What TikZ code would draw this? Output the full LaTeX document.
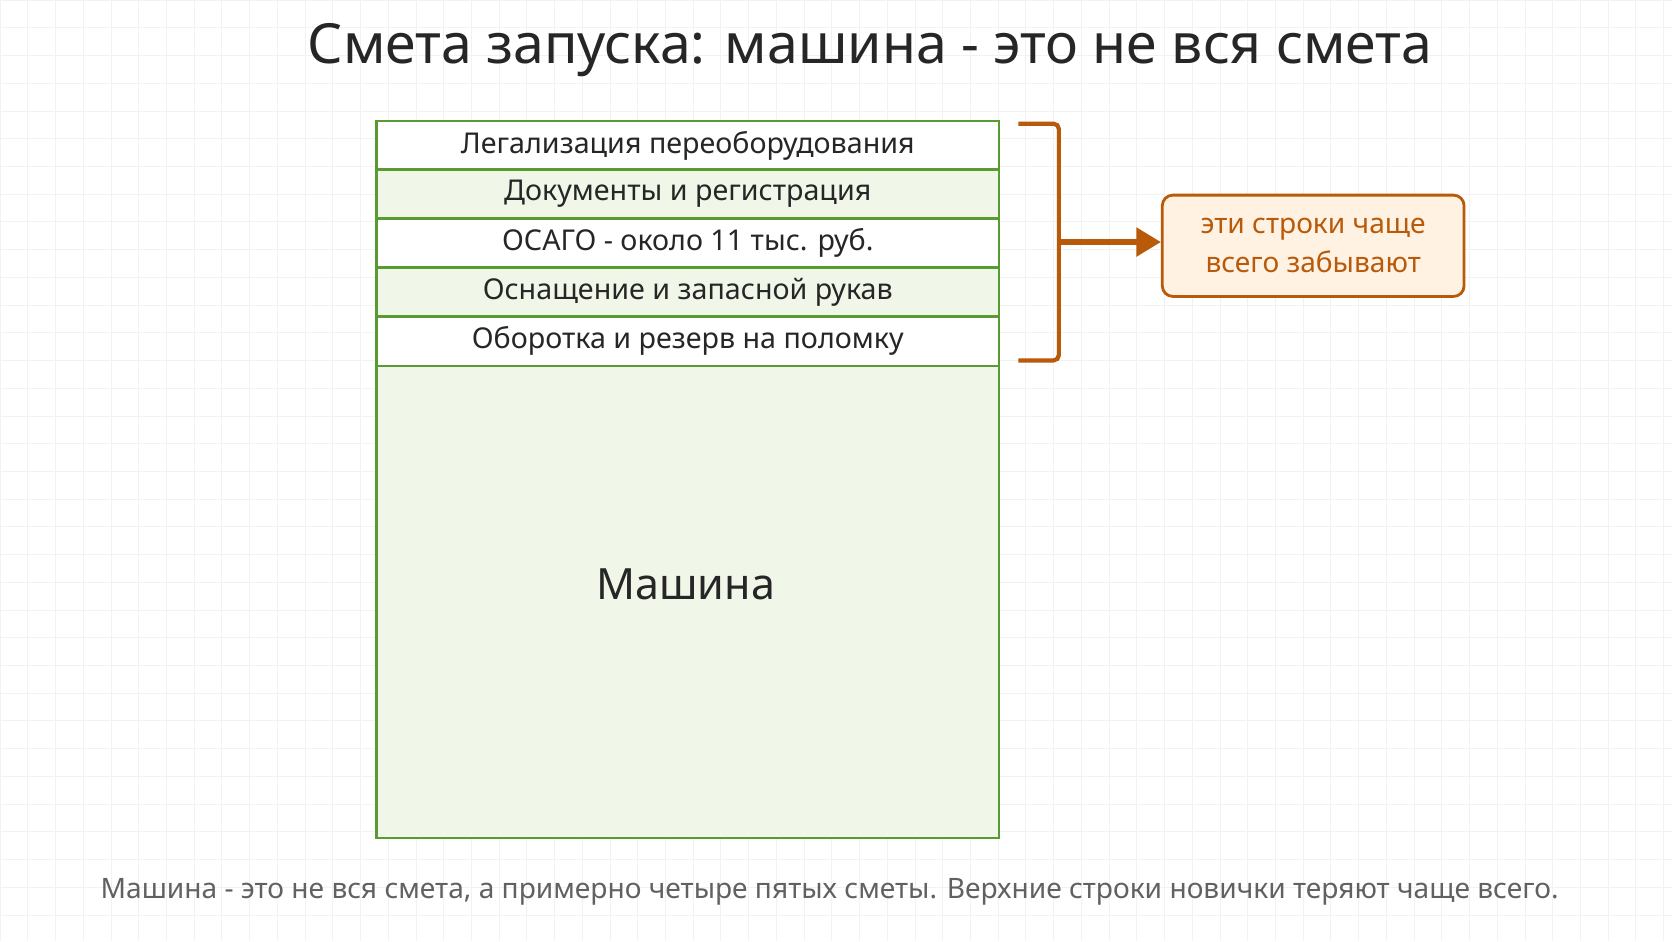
\documentclass[tikz,border=0pt]{standalone}
\usepackage{fontspec}
\setmainfont{Noto Sans}
\usetikzlibrary{arrows.meta}
\definecolor{rowgreen}{HTML}{5A9A32}
\definecolor{rowfill}{HTML}{F0F6E8}
\definecolor{brk}{HTML}{B85A0A}
\definecolor{notefill}{HTML}{FFF2E3}
\tikzset{row/.style={draw=rowgreen,line width=1.4pt,minimum width=584*0.02132cm,
                     inner sep=0pt,text=black!85,font=\fontsize{16.3}{19}\selectfont}}
\tikzset{note/.style={draw=brk,fill=notefill,line width=1.6pt,rounded corners=6pt,
                      text=brk,align=center,minimum width=283*0.02132cm,
                      minimum height=95*0.02132cm,font=\fontsize{16}{22}\selectfont}}
\begin{document}
\begin{tikzpicture}[x=0.02132cm,y=-0.02132cm]
    \useasboundingbox (0,0) rectangle (1568,882.6);
    \fill[white] (0,0) rectangle (1568,882.6);
    % light grid in the background
    \foreach \g in {0,26,...,1568}
        \draw[black!5,line width=0.4pt] (\g,0) -- (\g,882.6);
    \foreach \g in {0,26,...,882}
        \draw[black!5,line width=0.4pt] (0,\g) -- (1568,\g);

    \node[text=black!85] (title) at (816,47) {\fontsize{31.5}{38}\selectfont Смета запуска: машина - это не вся смета};

    % the stack of rows
    \node[row,fill=rowfill,minimum height=443*0.02132cm] (car) at (645,564.5) {};
    \node[text=black!85] (carlabel) at (643,548) {\fontsize{24.5}{30}\selectfont Машина};
    \foreach \name/\y/\col/\txt in {
        r1/136.5/white/Легализация переоборудования,
        r2/182/rowfill/Документы и регистрация,
        r3/228/white/ОСАГО - около 11 тыс. руб.,
        r4/274/rowfill/Оснащение и запасной рукав,
        r5/320/white/Оборотка и резерв на поломку}
        \node[row,fill=\col,minimum height=46*0.02132cm] (\name) at (645,\y) {\txt};

    % bracket and note
    \node[note] (hint) at (1231.5,230.5) {эти строки чаще\\всего забывают};
    \coordinate (btop) at (955,116);
    \coordinate (bbot) at (955,338);
    \coordinate (bmid) at (993,227);
    \draw[brk,line width=2.4pt,rounded corners=3pt]
        (btop) -- (993,116) -- (993,338) -- (bbot);
    \draw[brk,line width=3pt,-{Triangle[length=14pt,width=16pt]}]
        (bmid) -- (bmid -| hint.west);

    \node[text=black!62] (caption) at (778,836)
        {\fontsize{16}{19}\selectfont Машина - это не вся смета, а примерно четыре пятых сметы. Верхние строки новички теряют чаще всего.};
\end{tikzpicture}
\end{document}
